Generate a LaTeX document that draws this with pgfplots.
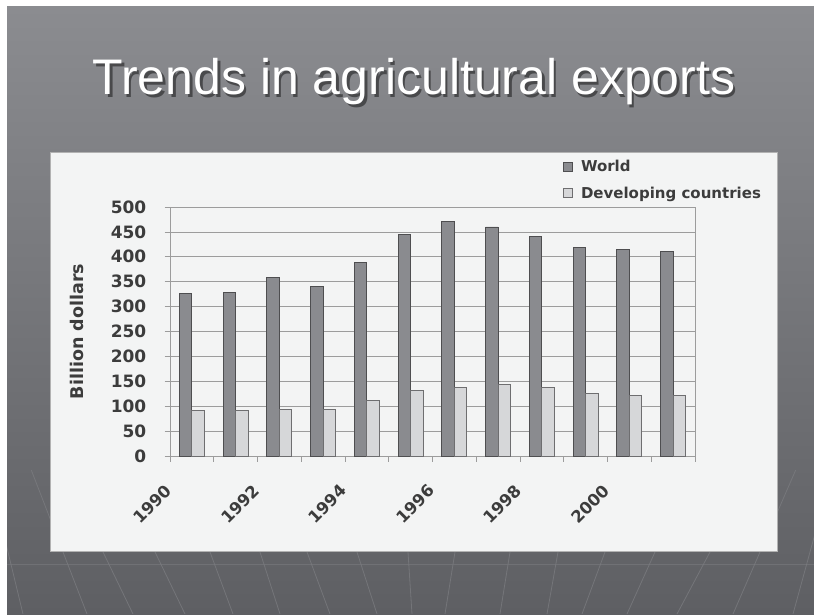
\documentclass[border=0pt]{standalone}
\usepackage{fontspec}
\setmainfont{Liberation Sans}
\newfontfamily\dv{DejaVu Sans}
\usepackage{pgfplots}
\pgfplotsset{compat=1.18}
\definecolor{slidetop}{HTML}{8B8C90}
\definecolor{slidebot}{HTML}{5E5F63}
\definecolor{panel}{HTML}{F3F4F4}
\definecolor{worldc}{HTML}{8A8B8F}
\definecolor{worlde}{HTML}{4E4E50}
\definecolor{devc}{HTML}{D6D7D9}
\definecolor{deve}{HTML}{6E6E70}
\definecolor{txt}{HTML}{3C3C3C}
\definecolor{gridc}{HTML}{9C9C9C}
\definecolor{fan}{HTML}{7A7B7F}
\pgfplotsset{sqlegend/.style={legend image code/.code={\draw[##1, line width=0.6pt] (0pt,-4.5pt) rectangle (9pt,4.5pt);}}}
\begin{document}
\begin{tikzpicture}[x=1pt,y=1pt]
\fill[white] (0pt,0pt) rectangle (814pt,614pt);
\shade[top color=slidetop, bottom color=slidebot] (7pt,0pt) rectangle (814pt,607pt);
\begin{scope}
\clip (7pt,0pt) rectangle (814pt,144pt);
\foreach \a/\b in {8/23,63/87,103/133,155/185,210/233,260/280,307/330,357/377,408/412,455/445,510/500,558/547,605/582,655/627,710/677,760/733,810/793}{
  \draw[fan, line width=0.8pt, opacity=0.8] ({(\a-(\b-\a)*82/62)*1pt},144pt) -- (\b pt,0pt);
}
\draw[fan, line width=0.8pt, opacity=0.6] (7pt,50pt) -- (814pt,50pt);
\end{scope}
\filldraw[fill=panel, draw=gray!60, line width=0.8pt] (50pt,63pt) rectangle (777pt,462pt);
\node[anchor=base, text=black, opacity=0.45] at (416.5pt,516.5pt) {\fontsize{50}{60}\selectfont Trends in agricultural exports};
\node[anchor=base, text=white] at (414pt,519pt) {\fontsize{50}{60}\selectfont Trends in agricultural exports};
\begin{axis}[
  at={(170pt,158pt)}, anchor=south west, scale only axis,
  width=525pt, height=249pt,
  ymin=0, ymax=500, ytick={0,50,...,500},
  xmin=-0.5, xmax=11.5,
  xtick={-0.5,0.5,...,11.5},
  xticklabels={1990,,1992,,1994,,1996,,1998,,2000,,},
  ybar=0pt, bar width=12.5pt,
  ymajorgrids, grid style={gridc, line width=0.8pt},
  axis line style={gridc, line width=0.8pt},
  tick style={gridc, line width=0.8pt},
  tick align=outside, major tick length=5.5pt,
  xtick pos=left, ytick pos=left,
  /pgf/number format/assume math mode=true,
  ticklabel style={font=\dv\bfseries\fontsize{16.5}{18}\selectfont, text=txt},
  x tick label style={xshift=-1pt, yshift=-26pt, rotate=45, anchor=east, inner sep=0pt},
  y tick label style={xshift=-18pt, anchor=east, inner sep=0pt, font=\dv\bfseries\fontsize{17}{18}\selectfont},
  ylabel={Billion dollars},
  ylabel style={at={(axis description cs:-0.1771,0.5)}, anchor=center, font=\dv\bfseries\fontsize{17.5}{20}\selectfont, text=txt},
  legend style={at={(axis description cs:0.749,1.198)}, anchor=north west, draw=none, fill=none,
    font=\dv\bfseries\fontsize{15}{17}\selectfont, text=txt, row sep=10pt, inner sep=0pt,
    /tikz/every odd column/.append style={column sep=6pt}},
  legend cell align=left,
]
\addplot[sqlegend, fill=worldc, draw=worlde, line width=0.8pt] coordinates {
(0,327) (1,328) (2,359) (3,340) (4,389) (5,445) (6,471) (7,460) (8,440) (9,419) (10,415) (11,410)};
\addplot[sqlegend, fill=devc, draw=deve, line width=0.8pt] coordinates {
(0,92) (1,92) (2,94) (3,94) (4,112) (5,131) (6,138) (7,143) (8,138) (9,126) (10,122) (11,122)};
\legend{World, Developing countries}
\end{axis}
\end{tikzpicture}
\end{document}
